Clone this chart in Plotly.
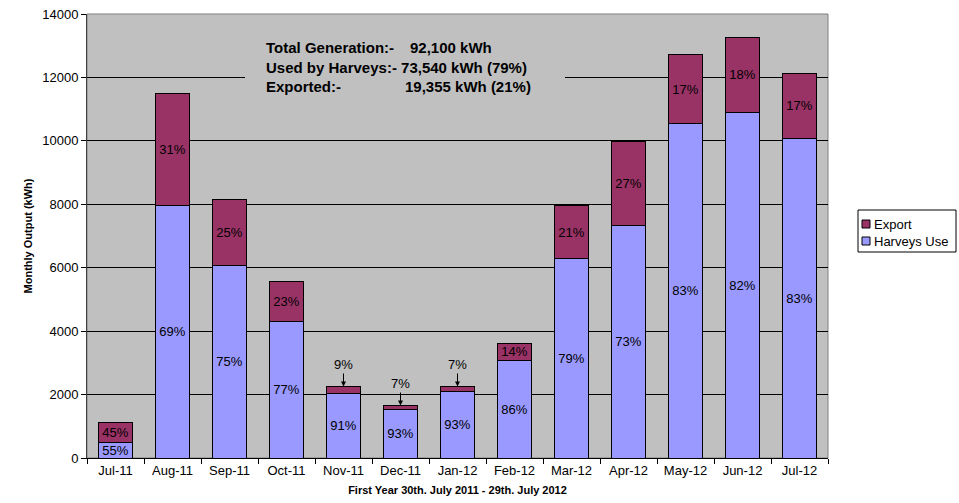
import plotly.graph_objects as go

# ---------------- data ----------------
months = ["Jul-11", "Aug-11", "Sep-11", "Oct-11", "Nov-11", "Dec-11", "Jan-12",
          "Feb-12", "Mar-12", "Apr-12", "May-12", "Jun-12", "Jul-12"]
harveys_use = [500, 7950, 6085, 4305, 2045, 1515, 2085, 3085, 6295, 7340, 10535, 10895, 10085]
export = [635, 3545, 2075, 1265, 210, 140, 170, 515, 1660, 2650, 2180, 2365, 2040]
harveys_pct = ["55%", "69%", "75%", "77%", "91%", "93%", "93%", "86%", "79%", "73%", "83%", "82%", "83%"]
export_pct = ["45%", "31%", "25%", "23%", "9%", "7%", "7%", "14%", "21%", "27%", "17%", "18%", "17%"]
arrow_months = ["Nov-11", "Dec-11", "Jan-12"]   # export labels drawn above bar with an arrow
y_ticks = [0, 2000, 4000, 6000, 8000, 10000, 12000, 14000]

summary_labels = ["Total Generation:-", "Used by Harveys:-", "Exported:-"]
summary_values = ["92,100 kWh", "73,540 kWh (79%)", "19,355 kWh (21%)"]

FONT = "Liberation Sans, Arial, sans-serif"
W, H = 959, 503
L, R, T, B = 87, 131, 14, 45
PW, PH = W - L - R, H - T - B


def px(x):
    return (x - L) / PW


def py(y):
    return (H - B - y) / PH


export_text = ["" if m in arrow_months else p for m, p in zip(months, export_pct)]

fig = go.Figure()
fig.add_trace(go.Bar(
    x=months, y=harveys_use, name="Harveys Use",
    marker=dict(color="#9999FF", line=dict(color="#000000", width=1)),
    text=harveys_pct, textposition="inside", insidetextanchor="middle",
    textangle=0, constraintext="none",
    textfont=dict(family=FONT, size=13, color="#000000"),
    showlegend=False,
))
fig.add_trace(go.Bar(
    x=months, y=export, name="Export",
    marker=dict(color="#993366", line=dict(color="#000000", width=1)),
    text=export_text, textposition="inside", insidetextanchor="middle",
    textangle=0, constraintext="none",
    textfont=dict(family=FONT, size=13, color="#000000"),
    showlegend=False,
))

annotations = []
# arrow labels for tiny export segments
for m, h, e, p in zip(months, harveys_use, export, export_pct):
    if m in arrow_months:
        annotations.append(dict(
            x=m, y=h + e, xref="x", yref="y", text=p, showarrow=True,
            ax=0, ay=-22, arrowhead=2, arrowsize=1, arrowwidth=1, arrowcolor="#000000",
            font=dict(family=FONT, size=13, color="#000000"),
        ))

# summary text box
line_y = [47, 67, 86]
value_x = [408, None, 403]
for lab, val, yy, vx in zip(summary_labels, summary_values, line_y, value_x):
    if vx is None:
        annotations.append(dict(x=px(264), y=py(yy), xref="paper", yref="paper",
                                text="<b>" + lab + " " + val + "</b>", showarrow=False,
                                xanchor="left", yanchor="middle",
                                font=dict(family=FONT, size=15, color="#000000")))
    else:
        annotations.append(dict(x=px(264), y=py(yy), xref="paper", yref="paper",
                                text="<b>" + lab + "</b>", showarrow=False,
                                xanchor="left", yanchor="middle",
                                font=dict(family=FONT, size=15, color="#000000")))
        annotations.append(dict(x=px(vx), y=py(yy), xref="paper", yref="paper",
                                text="<b>" + val + "</b>", showarrow=False,
                                xanchor="left", yanchor="middle",
                                font=dict(family=FONT, size=15, color="#000000")))

# custom legend text
annotations.append(dict(x=px(872), y=py(224), xref="paper", yref="paper", text="Export",
                        showarrow=False, xanchor="left", yanchor="middle",
                        font=dict(family=FONT, size=13, color="#000000")))
annotations.append(dict(x=px(872), y=py(241), xref="paper", yref="paper", text="Harveys Use",
                        showarrow=False, xanchor="left", yanchor="middle",
                        font=dict(family=FONT, size=13, color="#000000")))

shapes = [
    # plot-area frame
    dict(type="rect", xref="paper", yref="paper", x0=0, x1=1, y0=0, y1=1,
         line=dict(color="#808080", width=1), fillcolor="rgba(0,0,0,0)", layer="below"),
    # text box background (hides gridline behind text)
    dict(type="rect", xref="paper", yref="paper", x0=px(245), x1=px(565), y0=py(97), y1=py(36),
         line=dict(width=0), fillcolor="#C0C0C0", layer="above"),
    # legend box
    dict(type="rect", xref="paper", yref="paper", x0=px(858), x1=px(956), y0=py(252), y1=py(210),
         line=dict(color="#000000", width=1), fillcolor="#FFFFFF", layer="above"),
    dict(type="rect", xref="paper", yref="paper", x0=px(862), x1=px(870), y0=py(228), y1=py(220),
         line=dict(color="#000000", width=1), fillcolor="#993366", layer="above"),
    dict(type="rect", xref="paper", yref="paper", x0=px(862), x1=px(870), y0=py(245), y1=py(237),
         line=dict(color="#000000", width=1), fillcolor="#9999FF", layer="above"),
]

fig.update_layout(
    width=W, height=H,
    margin=dict(l=L, r=R, t=T, b=B, pad=0),
    barmode="stack", bargap=0.4,
    paper_bgcolor="#FFFFFF", plot_bgcolor="#C0C0C0",
    font=dict(family=FONT, size=13, color="#000000"),
    annotations=annotations, shapes=shapes,
    xaxis=dict(
        type="category", showgrid=False, showline=True, linecolor="#000000", linewidth=1,
        ticks="outside", tickson="boundaries", ticklen=5, tickcolor="#000000",
        tickfont=dict(family=FONT, size=13, color="#000000"),
        automargin=False,
        title=dict(text="<b>First Year 30th. July 2011 - 29th. July 2012</b>",
                   font=dict(family=FONT, size=11, color="#000000"), standoff=9),
    ),
    yaxis=dict(
        range=[0, 14000], tickvals=y_ticks, ticktext=[str(v) for v in y_ticks],
        showgrid=True, gridcolor="#000000", gridwidth=1, zeroline=False,
        showline=True, linecolor="#404040", linewidth=1,
        ticks="outside", ticklen=5, tickcolor="#000000",
        tickfont=dict(family=FONT, size=13, color="#000000"),
        automargin=False,
        title=dict(text="<b>Monthly Output (kWh)</b>",
                   font=dict(family=FONT, size=11, color="#000000"), standoff=7),
    ),
)

fig.write_html(
    "out.html",
    config={"displayModeBar": False},
    post_script="document.body.style.margin='0';document.body.style.padding='0';"
                "document.documentElement.style.overflow='hidden';",
)
